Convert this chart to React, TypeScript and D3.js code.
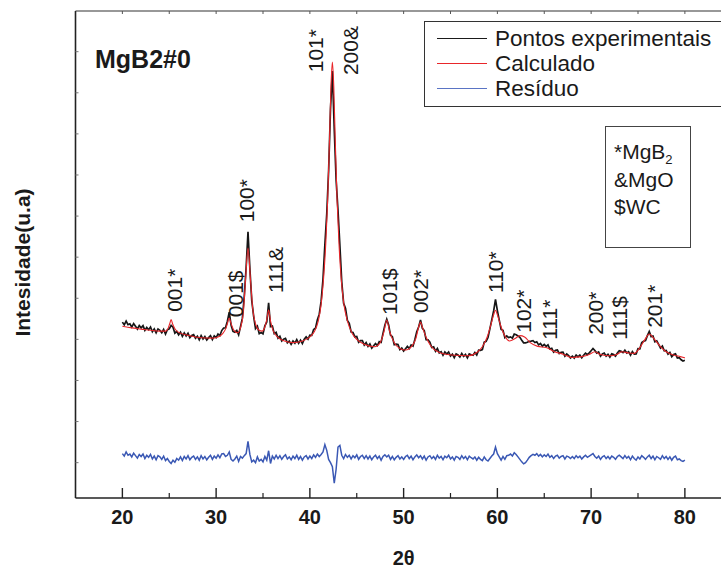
import React from 'react';
import * as d3 from 'd3';

// ---- data ----
const X_MAJOR_TICKS = [20, 30, 40, 50, 60, 70, 80];
const X_MINOR_TICKS = [25, 35, 45, 55, 65, 75];
const X_TOP_TICKS = [20, 25, 30, 35, 40, 45, 50, 55, 60, 65, 70, 75, 80];
const Y_TICKS = [0, 100, 200, 300, 400, 500, 600, 700, 800, 900, 1000];

// calculated profile (2θ, intensity)
const calcTheta = [20.0, 21.0, 22.0, 23.0, 24.0, 24.6, 24.9, 25.05, 25.2, 25.35, 25.6, 26.0, 27.0, 28.4, 29.5, 30.2, 30.7, 31.0, 31.2, 31.4, 31.6, 31.9, 32.3, 32.6, 32.9, 33.15, 33.4, 33.65, 33.9, 34.2, 34.6, 34.9, 35.2, 35.4, 35.6, 35.8, 36.1, 36.6, 37.3, 38.2, 39.2, 40.0, 40.5, 40.9, 41.2, 41.45, 41.7, 41.9, 42.1, 42.25, 42.4, 42.55, 42.7, 42.9, 43.1, 43.35, 43.6, 44.0, 44.5, 45.0, 45.8, 46.9, 47.5, 47.9, 48.2, 48.5, 49.0, 49.6, 50.2, 50.9, 51.3, 51.6, 51.8, 52.0, 52.4, 52.9, 53.8, 55.1, 56.9, 57.8, 58.4, 58.9, 59.3, 59.6, 59.8, 60.0, 60.4, 60.8, 61.3, 61.9, 62.4, 62.9, 63.5, 64.3, 65.2, 66.1, 67.0, 67.9, 69.0, 69.8, 70.4, 71.0, 72.0, 72.8, 73.3, 74.0, 74.6, 75.2, 75.7, 76.2, 76.7, 77.3, 78.0, 78.8, 79.5, 80.0];
const calcIntensity = [332, 328, 325, 322, 320, 320, 328, 338, 348, 338, 326, 317, 310, 304, 303, 306, 314, 325, 338, 352, 338, 322, 316, 328, 365, 450, 522, 450, 375, 338, 322, 320, 330, 348, 372, 345, 320, 305, 296, 292, 296, 306, 320, 345, 385, 445, 535, 640, 790, 915, 975, 915, 790, 640, 535, 445, 390, 345, 315, 300, 288, 282, 292, 318, 347, 320, 292, 278, 274, 284, 302, 330, 342, 330, 305, 284, 268, 262, 260, 268, 282, 305, 335, 360, 371, 360, 330, 308, 296, 302, 309, 306, 292, 283, 280, 270, 264, 256, 258, 263, 270, 263, 260, 264, 270, 267, 266, 280, 298, 313, 302, 285, 270, 262, 258, 255];

// residual (experimental - calculated), sampled every 0.2° from 20° to 80°
const RES_START = 20;
const RES_STEP = 0.2;
const residual = [
  10, 4, 14, 6, 9, 2, 11, 5, -1, 8,
  3, 9, -2, 6, 1, 8, -3, 4, -5, 5,
  2, -4, 4, -7, -2, -9, -14, -6, -11, -2,
  -6, 2, -7, 3, -3, 5, -5, 1, 4, -4,
  2, -6, 5, -3, 3, -5, 1, 6, -4, 4,
  -1, 7, 0, 9, 10, 3, 6, 14, -4, -8,
  -3, 4, -9, 3, -1, 5, 10, 40, 8, -10,
  -6, -12, 2, -8, -4, -10, 3, -6, 17, -14,
  4, -3, 6, -2, 5, -4, 3, 7, -3, 2,
  -5, 4, -2, 6, -4, 3, -6, 2, 5, -3,
  4, -2, 7, 1, 9, 3, 8, 14, 32, 18,
  -4, -12, -22, -62, -28, 26, 30, 6, -2, 8,
  1, 6, -3, 5, 0, 7, -4, 3, 6, -2,
  5, -3, 4, -5, 2, 6, -2, 4, -6, 3,
  7, 2, 6, -4, 3, -5, 1, 5, -3, 2,
  -4, 3, 6, -2, 4, -5, 2, 7, 0, 5,
  -3, 4, -6, 2, 5, -2, 3, -4, 6, -1,
  3, -5, 4, 0, 6, -3, 2, -6, 3, 1,
  -4, 5, -2, 3, -5, 4, 0, -3, 2, -6,
  1, -4, -7, 2, -5, -8, -2, 4, 9, 26,
  10, 2, -6, 3, -4, 5, 6, 9, 4, 12,
  8, 2, -4, -10, -15, -12, -6, 1, 5, 8,
  6, 10, 4, 8, 2, 7, 3, 9, 1, 5,
  -2, 4, 6, -1, 3, 5, -3, 4, 2, -2,
  3, -2, 5, 0, 4, -3, 2, 6, 1, 4,
  7, 10, 3, -1, 4, -4, 2, 5, -2, 3,
  -3, 4, 1, -4, 3, 6, 2, -2, 5, -1,
  3, -5, 4, -2, -6, 2, -3, 5, 1, -4,
  2, 6, -2, 4, -5, 3, 0, -4, 5, -2,
  3, -4, 2, -6, 1, 4, -5, -3, -7, -9,
  -6,
];
const RES_OFFSET = 12;

// peak labels
const peakLabels = ['001*', '001$', '100*', '111&', '101*', '200&', '101$', '002*', '110*', '102*', '111*', '200*', '111$', '201*'];
const peakLabelTheta = [26.35, 32.85, 34.08, 37.17, 41.41, 45.14, 49.33, 52.64, 60.64, 63.63, 66.4, 71.31, 73.81, 77.6];
const peakLabelIntensity = [367, 354, 585, 413, 950, 943, 359, 364, 413, 316, 299, 311, 299, 328];

const legendLabels = ['Pontos experimentais', 'Calculado', 'Resíduo'];
const legendColors = ['#1a1a1a', '#e8262a', '#5a74c4'];

const FONT = 'Liberation Sans, Arial, Helvetica, sans-serif';

export default function App() {
  const x = d3.scaleLinear().domain([15, 85]).range([75.5, 731.75]);
  const y = d3.scaleLinear().domain([-86, 1099]).range([498, 11]);

  const calcInterp = d3.scaleLinear().domain(calcTheta).range(calcIntensity);
  const gridTheta = residual.map((_, i) => +(RES_START + i * RES_STEP).toFixed(2));
  const expData: [number, number][] = gridTheta.map((t, i) => [t, calcInterp(t) + residual[i]]);
  const resData: [number, number][] = gridTheta.map((t, i) => [t, residual[i] + RES_OFFSET]);
  const calcData: [number, number][] = calcTheta.map((t, i) => [t, calcIntensity[i]]);

  const line = d3.line<[number, number]>().x(d => x(d[0])).y(d => y(d[1]));
  const smooth = d3.line<[number, number]>().x(d => x(d[0])).y(d => y(d[1])).curve(d3.curveMonotoneX);

  const left = x(15);
  const right = x(85);
  const top = y(1099);
  const bottom = y(-86);

  return (
    <svg width={721} height={572} style={{ position: 'absolute', left: 0, top: 0, background: '#fff' }} fontFamily={FONT}>
      <defs>
        <clipPath id="plot">
          <rect x={left} y={top} width={right - left} height={bottom - top} />
        </clipPath>
      </defs>
      <rect x={0} y={0} width={721} height={572} fill="#fff" />

      <g clipPath="url(#plot)">
        <path d={line(resData) || ''} fill="none" stroke="#3a58b4" strokeWidth={1.5} />
        <path d={line(expData) || ''} fill="none" stroke="#161616" strokeWidth={1.7} />
        <path d={smooth(calcData) || ''} fill="none" stroke="#e8262a" strokeWidth={1.1} />
      </g>

      {/* frame */}
      <line x1={left} x2={left} y1={top} y2={bottom} stroke="#222" strokeWidth={1.6} />
      <line x1={left} x2={right} y1={bottom} y2={bottom} stroke="#222" strokeWidth={1.6} />
      <line x1={left} x2={right} y1={top} y2={top} stroke="#333" strokeWidth={1.2} />

      {/* bottom ticks */}
      {X_MAJOR_TICKS.map(t => (
        <line key={'M' + t} x1={x(t)} x2={x(t)} y1={bottom} y2={bottom - 10} stroke="#222" strokeWidth={1.4} />
      ))}
      {X_MINOR_TICKS.map(t => (
        <line key={'m' + t} x1={x(t)} x2={x(t)} y1={bottom} y2={bottom - 5} stroke="#222" strokeWidth={1.2} />
      ))}
      {X_TOP_TICKS.map(t => (
        <line key={'t' + t} x1={x(t)} x2={x(t)} y1={top} y2={top + 3} stroke="#555" strokeWidth={1} />
      ))}
      {Y_TICKS.map(v => (
        <line key={'y' + v} x1={left} x2={left + 3} y1={y(v)} y2={y(v)} stroke="#777" strokeWidth={1} />
      ))}

      {/* tick labels */}
      {X_MAJOR_TICKS.map(t => (
        <text key={'l' + t} x={x(t)} y={524} textAnchor="middle" fontSize={20} fontWeight="bold" fill="#1a1a1a">{t}</text>
      ))}
      <text x={x(50)} y={565} textAnchor="middle" fontSize={20} fontWeight="bold" fill="#1a1a1a">2θ</text>
      <text transform={`translate(30,${(top + bottom) / 2 + 8}) rotate(-90)`} textAnchor="middle" fontSize={21} fontWeight="bold" fill="#1a1a1a">Intesidade(u.a)</text>

      {/* sample title */}
      <text x={95} y={68} fontSize={25} fontWeight="bold" fill="#1a1a1a">MgB2#0</text>

      {/* peak labels */}
      {peakLabels.map((lab, i) => (
        <text key={'p' + i} transform={`translate(${x(peakLabelTheta[i])},${y(peakLabelIntensity[i])}) rotate(-90)`} fontSize={21} fill="#1a1a1a">{lab}</text>
      ))}

      {/* legend */}
      <rect x={424.5} y={21.5} width={320} height={85} fill="#fff" stroke="#333" strokeWidth={1} />
      {legendLabels.map((lab, i) => (
        <g key={'lg' + i}>
          <line x1={437} x2={487} y1={38.5 + i * 25} y2={38.5 + i * 25} stroke={legendColors[i]} strokeWidth={1.2} />
          <text x={495} y={46 + i * 25} fontSize={22.5} fill="#1a1a1a">{lab}</text>
        </g>
      ))}

      {/* phase key */}
      <rect x={605.5} y={126.5} width={85} height={121} fill="#fff" stroke="#444" strokeWidth={1} />
      <text x={614} y={159} fontSize={21} fill="#1a1a1a">*MgB<tspan fontSize={13} dy={5}>2</tspan></text>
      <text x={614} y={187} fontSize={21} fill="#1a1a1a">&amp;MgO</text>
      <text x={614} y={214} fontSize={21} fill="#1a1a1a">$WC</text>
    </svg>
  );
}
